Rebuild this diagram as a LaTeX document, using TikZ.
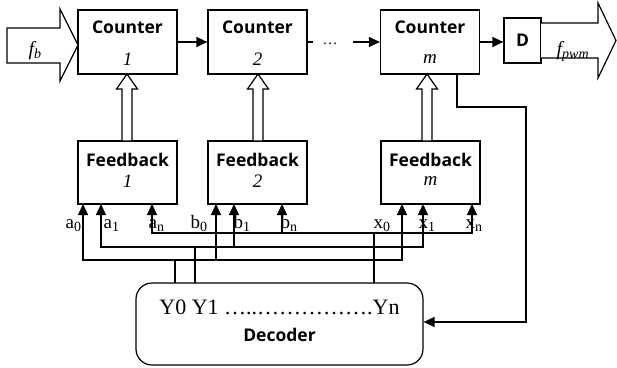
\documentclass[tikz,border=0pt]{standalone}
\usepackage{fontspec}
\setmainfont{Liberation Serif}
\newfontfamily\boldsans{Open Sans}
\usetikzlibrary{arrows.meta}
\newcommand\sublbl[2]{#1\raisebox{-3pt}{\fontsize{14}{14}\selectfont #2}}
\newcommand\holup[1]{\draw[hol] (#1-5,141) -- (#1-5,89) -- (#1-10.5,89) -- (#1,74) -- (#1+10.5,89) -- (#1+5,89) -- (#1+5,141) -- cycle;}
\begin{document}
\begin{tikzpicture}[x=1pt,y=-1pt,line width=1.2pt,
  blk/.style={draw,minimum width=99pt,minimum height=64pt,inner sep=0pt},
  ttl/.style={font=\boldsans\bfseries\fontsize{17.5}{17.5}\selectfont,inner sep=0pt},
  num/.style={font=\itshape\fontsize{19}{19}\selectfont,inner sep=0pt},
  lbl/.style={font=\fontsize{19}{19}\selectfont,inner sep=0pt,anchor=base west},
  arr/.style={-{Triangle[length=11pt,width=10pt]}},
  arrb/.style={{Triangle[length=11pt,width=10pt]}-{Triangle[length=11pt,width=10pt]}},
  hol/.style={draw,fill=white,line join=miter}]
\useasboundingbox (0,0) rectangle (617,367);

% counters
\node[blk] (c1) at (127.5,42) {};
\node[blk] (c2) at (257.5,42) {};
\node[blk] (cm) at (430,42) {};
\node[ttl] (c1t) at ([yshift=15pt]c1.center) {Counter};
\node[ttl] (c2t) at ([yshift=15pt]c2.center) {Counter};
\node[ttl] (cmt) at ([yshift=15pt]cm.center) {Counter};
\node[num] (c1n) at ([yshift=-17pt]c1.center) {1};
\node[num] (c2n) at ([yshift=-17pt]c2.center) {2};
\node[num] (cmn) at ([yshift=-17pt]cm.center) {m};

% D
\node[draw,minimum width=37pt,minimum height=45pt,inner sep=0pt,
  font=\boldsans\bfseries\fontsize{17.5}{17.5}\selectfont] (d) at (522.5,40.5) {D};

% feedbacks
\node[blk,minimum height=63pt] (f1) at (127.5,172.5) {};
\node[blk,minimum height=63pt] (f2) at (257.5,172.5) {};
\node[blk,minimum height=63pt] (fm) at (430.5,172.5) {};
\node[ttl] (f1t) at ([yshift=12.5pt]f1.center) {Feedback};
\node[ttl] (f2t) at ([yshift=12.5pt]f2.center) {Feedback};
\node[ttl] (fmt) at ([yshift=12.5pt]fm.center) {Feedback};
\node[num] (f1n) at ([yshift=-9pt]f1.center) {1};
\node[num] (f2n) at ([yshift=-9pt]f2.center) {2};
\node[num] (fmn) at ([yshift=-9pt]fm.center) {m};

% decoder
\node[draw,rounded corners=16pt,minimum width=287pt,minimum height=82pt,inner sep=0pt] (dec) at (279.5,324) {};
\node[font=\fontsize{22}{22}\selectfont,inner sep=0pt] (yy) at (279.5,307.5) {Y0 Y1 …..…………….Yn};
\node[ttl] (dect) at (279.5,334.5) {Decoder};

% input / output hollow arrows
\draw[hol] (7,28) -- (60,28) -- (60,9) -- (78,45) -- (60,81) -- (60,63) -- (7,63) -- cycle;
\node[font=\itshape\fontsize{20}{20}\selectfont,inner sep=0pt,anchor=base west] (fb) at (28,55.5) {f\raisebox{-2.5pt}{\fontsize{14}{14}\selectfont b}};
\draw[hol] (541,23) -- (598,23) -- (598,3) -- (616,40.5) -- (598,78) -- (598,58) -- (541,58);
\node[font=\itshape\fontsize{20}{20}\selectfont,inner sep=0pt,anchor=base west] (fp) at (556,55.5) {f\raisebox{-2.5pt}{\fontsize{14}{14}\selectfont pwm}};

% counter chain
\draw[arr] (c1.east) -- (c2.west);
\coordinate (c2o) at (313,42);
\draw (c2.east) -- (c2o);
\node[font=\fontsize{15}{15}\selectfont,inner sep=0pt,anchor=base] (dots) at (330,44) {…};
\coordinate (cmi) at (353,42);
\draw[arr] (cmi) -- (cm.west);
\draw[arr] (cm.east) -- (cm.east -| d.west);

% feedback -> counter hollow arrows
\holup{127}
\holup{258}
\holup{427}

% buses
\draw[arrb] (83,204) -- (83,260) -- (402,260) -- (402,204);
\draw[arr] (216,260) -- (216,204);
\draw (175,260) -- (175,283);
\draw[arrb] (101,204) -- (101,247) -- (423,247) -- (423,204);
\draw[arr] (234,247) -- (234,204);
\draw (195,247) -- (195,283);
\draw[arrb] (152,204) -- (152,233) -- (472,233) -- (472,204);
\draw[arr] (282,233) -- (282,204);
\draw (374,233) -- (374,283);

% labels
\node[lbl] (la0) at (65,228) {\sublbl{a}{0}};
\node[lbl] (la1) at (103,228) {\sublbl{a}{1}};
\node[lbl] (lan) at (148,228) {\sublbl{a}{n}};
\node[lbl] (lb0) at (190,228) {\sublbl{b}{0}};
\node[lbl] (lb1) at (233,228) {\sublbl{b}{1}};
\node[lbl] (lbn) at (280,228) {\sublbl{b}{n}};
\node[lbl] (lx0) at (373,228) {\sublbl{x}{0}};
\node[lbl] (lx1) at (418,228) {\sublbl{x}{1}};
\node[lbl] (lxn) at (465,228) {\sublbl{x}{n}};

% counter m -> decoder
\coordinate (fbk) at (526,322);
\draw[arr] (457,74) -- (457,107) -- (526,107) -- (fbk) -- (fbk -| dec.east);
\end{tikzpicture}
\end{document}
